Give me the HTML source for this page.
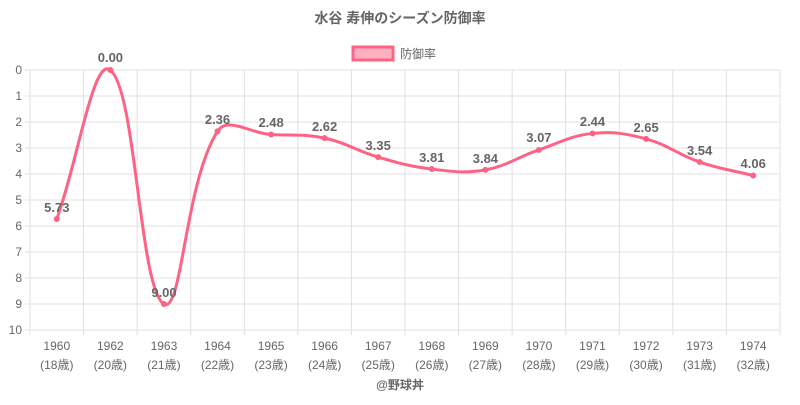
<!DOCTYPE html>
<html><head><meta charset="utf-8"><style>
body{margin:0;background:#fff;width:800px;height:400px;overflow:hidden}
svg text{font-family:"Liberation Sans","Noto Sans CJK JP",sans-serif;fill:#666}
</style></head><body>
<svg id="s" width="800" height="400" xmlns="http://www.w3.org/2000/svg">
<text x="400" y="23" text-anchor="middle" font-size="14" font-weight="bold">水谷 寿伸のシーズン防御率</text>
<rect x="353" y="47" width="40" height="13" fill="rgba(255,99,132,0.5)" stroke="#ff6384" stroke-width="3"/>
<text x="400" y="58" font-size="12">防御率</text>
<g id="grid" stroke="#e0e0e0" stroke-width="1"></g>
<g id="ylab" font-size="12" text-anchor="end">
<text x="22" y="74">0</text><text x="22" y="100">1</text><text x="22" y="126">2</text><text x="22" y="152">3</text><text x="22" y="178">4</text><text x="22" y="204">5</text><text x="22" y="230">6</text><text x="22" y="256">7</text><text x="22" y="282">8</text><text x="22" y="308">9</text><text x="22" y="334">10</text>
</g>
<g id="xlab" font-size="12" text-anchor="middle"></g>
<path id="line" fill="none" stroke="#ff6384" stroke-width="3"/>
<g id="pts"></g>
<g id="dl" font-size="13" font-weight="bold" text-anchor="middle">
<text x="56.8" y="212">5.73</text><text x="110.4" y="62">0.00</text><text x="164" y="297">9.00</text><text x="217.5" y="124">2.36</text><text x="271.1" y="127">2.48</text><text x="324.6" y="131">2.62</text><text x="378.2" y="150">3.35</text><text x="431.8" y="162">3.81</text><text x="485.4" y="163">3.84</text><text x="538.9" y="142">3.07</text><text x="592.5" y="126">2.44</text><text x="646.1" y="132">2.65</text><text x="699.6" y="155">3.54</text><text x="753.2" y="168">4.06</text>
</g>
<text x="400" y="389" text-anchor="middle" font-size="12" font-weight="bold">@野球丼</text>
</svg>
<script>
var yrs=[1960,1962,1963,1964,1965,1966,1967,1968,1969,1970,1971,1972,1973,1974];
var ages=[18,20,21,22,23,24,25,26,27,28,29,30,31,32];
var v=[5.73,0,9,2.36,2.48,2.62,3.35,3.81,3.84,3.07,2.44,2.65,3.54,4.06];
var L=30,R=780,T=70,B=330,w=(R-L)/14,ns="http://www.w3.org/2000/svg";
var g=document.getElementById('grid'),h='';
for(var i=0;i<=10;i++){var y=T+26*i;h+='<line x1="'+(L-5)+'" x2="'+R+'" y1="'+y+'" y2="'+y+'"/>';}
for(var i=0;i<=14;i++){var x=L+w*i;h+='<line x1="'+x+'" x2="'+x+'" y1="'+T+'" y2="'+(B+5)+'"/>';}
g.innerHTML=h;
var P=v.map(function(a,i){return [L+w*(i+0.5),T+26*a]});
var pts='';P.forEach(function(p){pts+='<circle cx="'+p[0]+'" cy="'+p[1]+'" r="3" fill="#ff6384"/>';});
document.getElementById('pts').innerHTML=pts;
var t=0.4,cp=[];
for(var i=0;i<P.length;i++){var a=P[i-1]||P[i],b=P[i],c=P[i+1]||P[i];
var d1=Math.hypot(b[0]-a[0],b[1]-a[1]),d2=Math.hypot(c[0]-b[0],c[1]-b[1]);
var s1=d1/(d1+d2)||0,s2=d2/(d1+d2)||0;
cp.push([[b[0]-t*s1*(c[0]-a[0]),b[1]-t*s1*(c[1]-a[1])],[b[0]+t*s2*(c[0]-a[0]),b[1]+t*s2*(c[1]-a[1])]]);}
var d='M'+P[0][0]+','+P[0][1];
for(var i=1;i<P.length;i++){d+='C'+cp[i-1][1][0]+','+cp[i-1][1][1]+' '+cp[i][0][0]+','+cp[i][0][1]+' '+P[i][0]+','+P[i][1];}
document.getElementById('line').setAttribute('d',d);
var xl='';for(var i=0;i<14;i++){var x=L+w*(i+0.5);xl+='<text x="'+x+'" y="350">'+yrs[i]+'</text><text x="'+x+'" y="369">('+ages[i]+'歳)</text>';}
document.getElementById('xlab').innerHTML=xl;
</script>
</body></html>
